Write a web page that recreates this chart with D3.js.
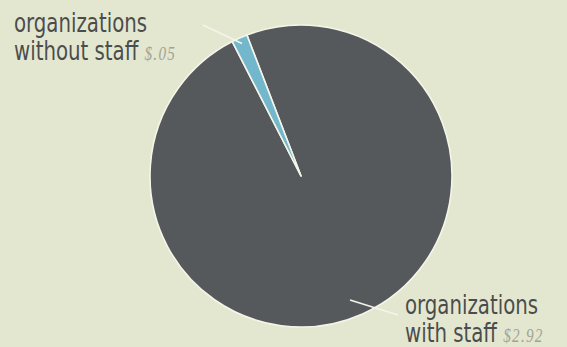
<!DOCTYPE html>
<html>
<head>
<meta charset="utf-8">
<script src="https://cdn.jsdelivr.net/npm/d3@7"></script>
<style>
  html, body { margin: 0; padding: 0; background: #e4e7d0; }
  svg { display: block; }
</style>
</head>
<body>
<script>
// Cost split between the two kinds of organizations
const categories = ["organizations with staff", "organizations without staff"];
const values = [2.92, 0.05];
const valueLabels = ["$2.92", "$.05"];
const colors = ["#55595b", "#72b7cb"];

const W = 567, H = 347;
const cx = 301, cy = 176, R = 151;

const svg = d3.select("body").append("svg")
  .attr("width", W).attr("height", H);

svg.append("rect").attr("width", W).attr("height", H).attr("fill", "#e4e7d0");

const deg = Math.PI / 180;
const pie = d3.pie().sort(null).value(d => d)
  .startAngle(-21 * deg).endAngle(339 * deg);
const arcs = pie(values);
const arc = d3.arc().innerRadius(0).outerRadius(R);

const g = svg.append("g").attr("transform", `translate(${cx},${cy})`);
g.selectAll("path").data(arcs).join("path")
  .attr("d", arc)
  .attr("fill", (d, i) => colors[i])
  .attr("stroke", "#f4f5ea")
  .attr("stroke-width", 1.6)
  .attr("stroke-linejoin", "round");

// Leader lines from the labels into the slices
const leader = (x1, y1, x2, y2) => svg.append("line")
  .attr("x1", x1).attr("y1", y1).attr("x2", x2).attr("y2", y2)
  .attr("stroke", "#f4f5ea").attr("stroke-width", 1.6);

const small = arcs[1];
const midSmall = (small.startAngle + small.endAngle) / 2;
leader(203, 25, cx + Math.sin(midSmall) * (R - 6), cy - Math.cos(midSmall) * (R - 6));
leader(350, 300, 398, 315);

// Labels: condensed sans set narrower with a horizontal squeeze
const labelFont = "'DejaVu Sans Condensed', 'Liberation Sans', sans-serif";
const valueFont = "'Liberation Serif', 'DejaVu Serif', serif";

function label(x, yTop, lines, value) {
  const t = svg.append("g")
    .attr("transform", `translate(${x},${yTop}) scale(0.845,1)`)
    .append("text")
    .attr("font-family", labelFont)
    .attr("font-size", 26)
    .attr("fill", "#4b4d4d");
  t.append("tspan").attr("x", 0).attr("y", 0).text(lines[0]);
  t.append("tspan").attr("x", 0).attr("y", 28.5).text(lines[1] + " ");
  t.append("tspan")
    .attr("font-family", valueFont)
    .attr("font-style", "italic")
    .attr("font-size", 18)
    .attr("letter-spacing", 1.5)
    .attr("fill", "#a2a393")
    .text(value);
}

label(14, 32, ["organizations", "without staff"], valueLabels[1]);
label(405, 313.5, ["organizations", "with staff"], valueLabels[0]);
</script>
</body>
</html>
